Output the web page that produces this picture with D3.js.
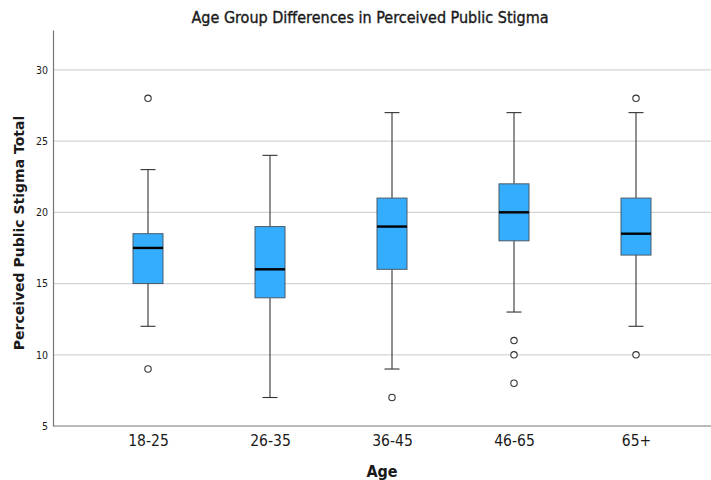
<!DOCTYPE html>
<html>
<head>
<meta charset="utf-8">
<script src="https://cdn.jsdelivr.net/npm/d3@7"></script>
<style>
  body { margin: 0; background: #fff; }
  text { fill: #1a1a1a; }
</style>
</head>
<body>
<svg id="chart" width="711" height="480"></svg>
<script>
// boxplot data
const groups = ["18-25", "26-35", "36-45", "46-65", "65+"];
const whiskerLow = [12, 7, 9, 13, 12];
const q1 = [15, 14, 16, 18, 17];
const median = [17.5, 16, 19, 20, 18.5];
const q3 = [18.5, 19, 21, 22, 21];
const whiskerHigh = [23, 24, 27, 27, 27];
const outliers = [[28, 9], [], [7], [11, 10, 8], [28, 10]];
const yTicks = [5, 10, 15, 20, 25, 30];

const margin = {top: 30, right: 0, bottom: 54, left: 53};
const width = 711 - margin.left - margin.right;
const height = 480 - margin.top - margin.bottom;

const svg = d3.select("#chart");
const g = svg.append("g").attr("transform", `translate(${margin.left},${margin.top})`);

const y = d3.scaleLinear().domain([5, 32.8]).range([height, 0]);
const x = d3.scalePoint().domain(groups).range([95, 583]);

// gridlines
g.selectAll(".grid")
  .data(yTicks.filter(d => d > 5))
  .enter().append("line")
    .attr("x1", 0).attr("x2", width)
    .attr("y1", d => y(d)).attr("y2", d => y(d))
    .attr("stroke", "#d4d4d4")
    .attr("stroke-width", 1.2);

// axes
const yAxis = g.append("g").call(d3.axisLeft(y).tickValues(yTicks).tickSize(0).tickPadding(5));
yAxis.select(".domain").attr("stroke", "#777").attr("stroke-width", 1.2);
yAxis.selectAll("text").attr("font-family", "DejaVu Sans Condensed, sans-serif")
  .attr("font-size", 10.5).attr("fill", "#333").attr("dy", "0.32em");

g.append("line")
  .attr("x1", 0).attr("x2", width)
  .attr("y1", height).attr("y2", height)
  .attr("stroke", "#777").attr("stroke-width", 1.2);

const xAxis = g.append("g").attr("transform", `translate(0,${height})`)
  .call(d3.axisBottom(x).tickSize(0).tickPadding(9));
xAxis.select(".domain").remove();
xAxis.selectAll("text").attr("font-family", "DejaVu Sans Condensed, sans-serif")
  .attr("font-size", 15.5).attr("fill", "#222");

const boxW = 30, capW = 15;

groups.forEach(function(k, i){
  const cx = x(k);
  const box = g.append("g");

  box.append("line")
    .attr("x1", cx).attr("x2", cx)
    .attr("y1", y(whiskerLow[i])).attr("y2", y(q1[i]))
    .attr("stroke", "#333").attr("stroke-width", 1.1);
  box.append("line")
    .attr("x1", cx).attr("x2", cx)
    .attr("y1", y(q3[i])).attr("y2", y(whiskerHigh[i]))
    .attr("stroke", "#333").attr("stroke-width", 1.1);

  [whiskerLow[i], whiskerHigh[i]].forEach(function(v){
    box.append("line")
      .attr("x1", cx - capW / 2).attr("x2", cx + capW / 2)
      .attr("y1", y(v)).attr("y2", y(v))
      .attr("stroke", "#333").attr("stroke-width", 1.1);
  });

  box.append("rect")
    .attr("x", cx - boxW / 2)
    .attr("y", y(q3[i]))
    .attr("width", boxW)
    .attr("height", y(q1[i]) - y(q3[i]))
    .attr("fill", "#35adff")
    .attr("stroke", "#4a5a68")
    .attr("stroke-width", 1);

  box.append("line")
    .attr("x1", cx - boxW / 2).attr("x2", cx + boxW / 2)
    .attr("y1", y(median[i])).attr("y2", y(median[i]))
    .attr("stroke", "#000").attr("stroke-width", 2.4);

  box.selectAll("circle")
    .data(outliers[i])
    .enter().append("circle")
      .attr("cx", cx)
      .attr("cy", d => y(d))
      .attr("r", 3.2)
      .attr("fill", "#fff")
      .attr("stroke", "#333")
      .attr("stroke-width", 1.1);
});

// title and axis labels
svg.append("text")
  .attr("x", 370).attr("y", 23)
  .attr("text-anchor", "middle")
  .attr("font-family", "DejaVu Sans Condensed, sans-serif")
  .attr("font-size", 16)
  .attr("stroke", "#1a1a1a").attr("stroke-width", 0.35)
  .text("Age Group Differences in Perceived Public Stigma");

svg.append("text")
  .attr("transform", "translate(24,233) rotate(-90)")
  .attr("text-anchor", "middle")
  .attr("font-family", "DejaVu Sans, sans-serif")
  .attr("font-weight", "bold")
  .attr("font-size", 14)
  .text("Perceived Public Stigma Total");

svg.append("text")
  .attr("x", 382).attr("y", 477)
  .attr("text-anchor", "middle")
  .attr("font-family", "DejaVu Sans Condensed, sans-serif")
  .attr("font-weight", "bold")
  .attr("font-size", 16)
  .text("Age");
</script>
</body>
</html>
